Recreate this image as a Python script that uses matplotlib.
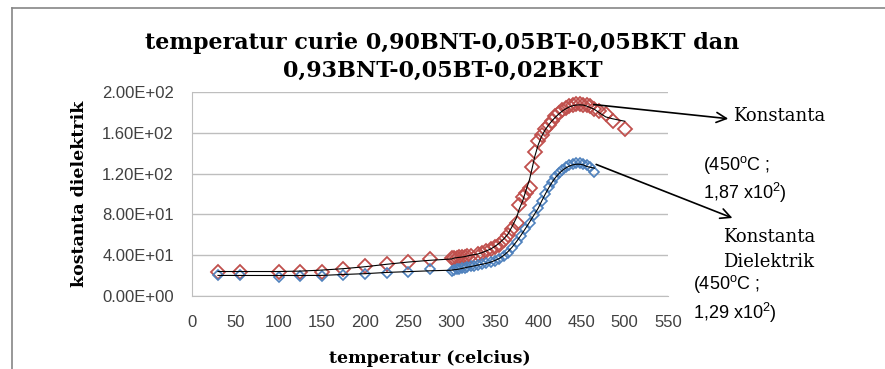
import numpy as np
import pandas as pd
import matplotlib
matplotlib.use("Agg")
import matplotlib.pyplot as plt
from matplotlib.ticker import FormatStrFormatter

# data
suhu_merah = [30, 55, 100, 125, 150, 175, 200, 225, 250, 275, 300, 303, 306, 309, 312, 315, 318, 322,
              330, 335, 340, 345, 350, 355, 360, 365, 370, 375, 378, 382, 386, 390, 393, 396, 400,
              404, 408, 412, 416, 420, 424, 428, 432, 436, 440, 444, 448, 452, 456, 460, 465, 470,
              478, 486, 500]
k_merah = [24, 24, 24, 24, 24, 26, 29, 31, 33.5, 36, 37, 37.5, 37.5, 38, 38, 38.5, 39, 39.5,
           41, 42, 44, 46, 48, 50, 55, 60, 66, 72, 89, 97, 101, 106, 126, 141, 152,
           158, 164, 168, 172, 176, 179, 182, 184, 186, 187, 188, 188, 187, 187, 186, 183, 181,
           178, 172, 164]

suhu_biru = [30, 55, 100, 125, 150, 175, 200, 225, 250, 275, 300, 303, 306, 309, 312, 315, 318, 322,
             326, 330, 335, 340, 345, 350, 355, 360, 365, 370, 375, 380, 385, 390, 395, 400, 404,
             408, 412, 416, 420, 424, 428, 432, 436, 440, 444, 448, 452, 456, 460, 465]
k_biru = [21, 21, 18.5, 20, 20, 21, 21.5, 23, 24, 26, 25, 25.5, 26, 26.5, 27, 27.5, 28, 29,
          29.5, 30, 31, 32, 33, 34, 36, 39, 42, 47, 53, 59, 66, 72, 79, 86, 93,
          100, 107, 112, 117, 121, 124, 126, 128, 129, 130, 130, 129, 128, 126, 122]

xticks = list(range(0, 551, 50))
yticks = [0, 40, 80, 120, 160, 200]

W, H = 885, 369
fig = plt.figure(figsize=(W / 100, H / 100), dpi=100)
plt.rcParams['mathtext.fontset'] = 'custom'
plt.rcParams['mathtext.rm'] = 'Liberation Sans'

ax = fig.add_axes([192 / W, (H - 296) / H, (668 - 192) / W, (296 - 92) / H])

# trend lines (smoothed from the points)
tr_m = pd.Series(k_merah).rolling(5, center=True, min_periods=1).mean()
tr_b = pd.Series(k_biru).rolling(5, center=True, min_periods=1).mean()

ax.plot(suhu_merah, k_merah, linestyle='none', marker='D', markersize=7, mfc='none',
        mec='#C0504D', mew=1.3, zorder=3)
ax.plot(suhu_biru, k_biru, linestyle='none', marker='D', markersize=5, mfc='none',
        mec='#4F81BD', mew=1.2, zorder=3)
ax.plot(suhu_merah, tr_m, color='black', linewidth=0.8, zorder=4)
ax.plot(suhu_biru, tr_b, color='black', linewidth=0.8, zorder=4)

ax.set_xlim(0, 550)
ax.set_ylim(0, 200)
ax.set_xticks(xticks)
ax.set_yticks(yticks)
ax.yaxis.set_major_formatter(FormatStrFormatter('%.2E'))
ax.grid(axis='y', color='#BEBEBE', linewidth=1)
ax.set_axisbelow(True)
for s in ['top', 'right']:
    ax.spines[s].set_visible(False)
for s in ['left', 'bottom']:
    ax.spines[s].set_color('#BEBEBE')
ax.tick_params(length=0, labelsize=12, labelcolor='#404040')
ax.tick_params(axis='y', pad=13)
ax.tick_params(axis='x', pad=14)
for lab in ax.get_xticklabels() + ax.get_yticklabels():
    lab.set_family('Liberation Sans')

ax.set_xlabel('temperatur (celcius)', fontfamily='DejaVu Serif', fontweight='bold', fontsize=12.5,
              labelpad=14)
ax.set_ylabel('kostanta dielektrik', fontfamily='DejaVu Serif', fontweight='bold', fontsize=12.5,
              labelpad=10)

fig.text(0.5, 1 - 57 / H, 'temperatur curie 0,90BNT-0,05BT-0,05BKT dan\n0,93BNT-0,05BT-0,02BKT',
         ha='center', va='center', fontfamily='DejaVu Serif', fontweight='bold', fontsize=16,
         linespacing=1.3)

# annotations
def fx(px):
    return px / W

def fy(py):
    return 1 - py / H

ax.annotate('', xy=(fx(731), fy(119)), xycoords='figure fraction', xytext=(461, 188),
            textcoords='data', annotation_clip=False,
            arrowprops=dict(arrowstyle='->', color='black', lw=1.2, mutation_scale=18))
ax.annotate('', xy=(fx(735), fy(219)), xycoords='figure fraction', xytext=(464, 130),
            textcoords='data', annotation_clip=False,
            arrowprops=dict(arrowstyle='->', color='black', lw=1.2, mutation_scale=18))

serif = dict(fontfamily='DejaVu Serif', fontsize=13, va='center', ha='left')
sans = dict(fontfamily='Liberation Sans', fontsize=13, va='center', ha='left')
fig.text(fx(733), fy(116), 'Konstanta', **serif)
fig.text(fx(703), fy(165), r'(450$^{\mathrm{o}}$C ;', **sans)
fig.text(fx(703), fy(193), r'1,87 x10$^{\mathrm{2}}$)', **sans)
fig.text(fx(723), fy(237), 'Konstanta', **serif)
fig.text(fx(723), fy(262), 'Dielektrik', **serif)
fig.text(fx(693), fy(284), r'(450$^{\mathrm{o}}$C ;', **sans)
fig.text(fx(693), fy(313), r'1,29 x10$^{\mathrm{2}}$)', **sans)

# outer chart border
fig.add_artist(plt.Line2D([fx(12), 1.01], [fy(8), fy(8)], color='#868686', lw=1.2))
fig.add_artist(plt.Line2D([fx(12), fx(12)], [fy(8), -0.01], color='#868686', lw=1.2))

fig.savefig('out.png', dpi=100)
